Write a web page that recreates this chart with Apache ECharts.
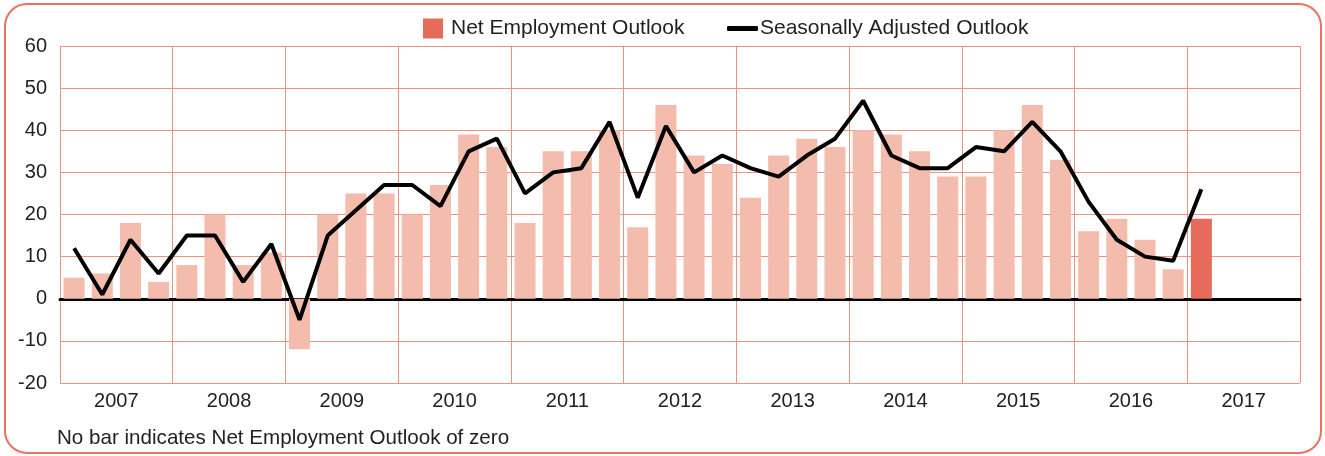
<!DOCTYPE html>
<html>
<head>
<meta charset="utf-8">
<script src="https://cdn.jsdelivr.net/npm/echarts@6/dist/echarts.min.js"></script>
<style>
  html, body { margin: 0; padding: 0; background: #fff; }
  #chart { width: 1325px; height: 456px; }
</style>
</head>
<body>
<div id="chart"></div>
<script>
// quarters 2007 Q1 .. 2017 Q4
var years = ['2007', '2008', '2009', '2010', '2011', '2012', '2013', '2014', '2015', '2016', '2017'];
var quarters = [];
years.forEach(function (y) { ['Q1', 'Q2', 'Q3', 'Q4'].forEach(function (q) { quarters.push(y + ' ' + q); }); });

// Net Employment Outlook (bars), 2007 Q1 .. 2017 Q1
var netOutlook = [
  5, 6, 18, 4,
  8, 20, 8, 11,
  -12, 20, 25, 25,
  20, 27, 39, 36,
  18, 35, 35, 40,
  17, 46, 34, 32,
  24, 34, 38, 36,
  40, 39, 35, 29,
  29, 40, 46, 33,
  16, 19, 14, 7,
  19
];

// Seasonally Adjusted Outlook (line)
var seasonal = [
  12, 1, 14, 6,
  15, 15, 4, 13,
  -5, 15, 21, 27,
  27, 22, 35, 38,
  25, 30, 31, 42,
  24, 41, 30, 34,
  31, 29, 34, 38,
  47, 34, 31, 31,
  36, 35, 42, 35,
  23, 14, 10, 9,
  26
];

var barLight = '#f4bcad';
var barDark = '#e66b5b';
var gridRed = '#f0907f';
var textFont = 'Liberation Sans';

var myChart = echarts.init(document.getElementById('chart'));

var barData = netOutlook.map(function (v, i) {
  if (i === netOutlook.length - 1) return { value: v, itemStyle: { color: barDark } };
  return v;
});

var option = {
  animation: false,
  textStyle: { fontFamily: textFont, color: '#222' },
  graphic: [
    {
      type: 'rect',
      shape: { x: 5, y: 4, width: 1316, height: 449, r: 22 },
      style: { fill: 'none', stroke: '#e8735f', lineWidth: 2 },
      silent: true
    },
    {
      type: 'text',
      left: 57,
      top: 428,
      style: { text: 'No bar indicates Net Employment Outlook of zero', fill: '#222', font: '20.6px ' + textFont }
    }
  ],
  legend: [
    {
      left: 423, top: 18, padding: 0, itemWidth: 20, itemHeight: 20, itemGap: 8,
      textStyle: { fontSize: 21, color: '#222', fontFamily: textFont, padding: [0, 0, 0, 3] },
      data: [{ name: 'Net Employment Outlook', icon: 'rect', itemStyle: { color: barDark } }]
    },
    {
      left: 727, top: 18, padding: 0, itemWidth: 31, itemHeight: 5,
      textStyle: { fontSize: 21, color: '#222', fontFamily: textFont, padding: [0, 0, 0, -3] },
      data: [{ name: 'Seasonally Adjusted Outlook', icon: 'roundRect', itemStyle: { color: '#000' } }]
    }
  ],
  grid: { left: 60, right: 25, top: 46, bottom: 73, containLabel: false },
  xAxis: [
    {
      type: 'category',
      data: quarters,
      axisLine: { onZero: true, lineStyle: { color: '#000', width: 3 } },
      axisTick: { show: false },
      axisLabel: { show: false },
      splitLine: { show: false }
    },
    {
      type: 'category',
      data: years,
      position: 'bottom',
      axisLine: { show: false },
      axisTick: { show: false },
      axisLabel: { fontSize: 20, color: '#222', margin: 8, fontFamily: textFont },
      splitLine: { show: true, lineStyle: { color: gridRed, width: 1 } }
    }
  ],
  yAxis: {
    type: 'value',
    min: -20, max: 60, interval: 10,
    axisLine: { show: false },
    axisTick: { show: false },
    axisLabel: { fontSize: 20, color: '#222', margin: 13, fontFamily: textFont },
    splitLine: { lineStyle: { color: gridRed, width: 1 } }
  },
  series: [
    {
      name: 'Net Employment Outlook',
      type: 'bar',
      xAxisIndex: 0,
      barWidth: 21,
      itemStyle: { color: barLight },
      data: barData,
      z: 2
    },
    {
      name: 'Seasonally Adjusted Outlook',
      type: 'line',
      xAxisIndex: 0,
      symbol: 'none',
      lineStyle: { color: '#000', width: 4 },
      itemStyle: { color: '#000' },
      data: seasonal,
      z: 3
    }
  ]
};

myChart.setOption(option);
</script>
</body>
</html>
